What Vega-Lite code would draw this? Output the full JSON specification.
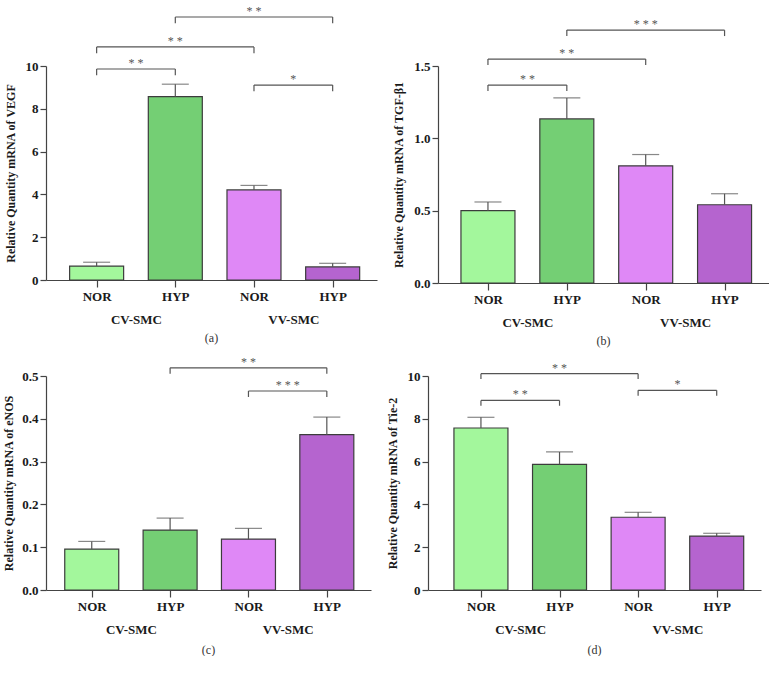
{
  "$schema": "https://vega.github.io/schema/vega-lite/v6.json",
  "padding": {"left": 2, "top": 4, "right": 0, "bottom": 0},
  "background": "white",
  "datasets": {
    "bars_a": [
      {"cond": "CV-NOR", "pos": 1, "value": 0.65, "upper": 0.83},
      {"cond": "CV-HYP", "pos": 2, "value": 8.57, "upper": 9.15},
      {"cond": "VV-NOR", "pos": 3, "value": 4.21, "upper": 4.42},
      {"cond": "VV-HYP", "pos": 4, "value": 0.61, "upper": 0.78}
    ],
    "br_a": [
      {"from": 2, "to": 4, "mid": 3, "y": 12.29, "low": 12.0, "label": "* *"},
      {"from": 1, "to": 3, "mid": 2, "y": 10.89, "low": 10.6, "label": "* *"},
      {"from": 1, "to": 2, "mid": 1.5, "y": 9.86, "low": 9.57, "label": "* *"},
      {"from": 3, "to": 4, "mid": 3.5, "y": 9.11, "low": 8.82, "label": "*"}
    ],
    "bars_b": [
      {"cond": "CV-NOR", "pos": 1, "value": 0.5, "upper": 0.56},
      {"cond": "CV-HYP", "pos": 2, "value": 1.134, "upper": 1.279},
      {"cond": "VV-NOR", "pos": 3, "value": 0.81, "upper": 0.888},
      {"cond": "VV-HYP", "pos": 4, "value": 0.541, "upper": 0.617}
    ],
    "br_b": [
      {"from": 2, "to": 4, "mid": 3, "y": 1.748, "low": 1.707, "label": "* * *"},
      {"from": 1, "to": 3, "mid": 2, "y": 1.548, "low": 1.507, "label": "* *"},
      {"from": 1, "to": 2, "mid": 1.5, "y": 1.368, "low": 1.327, "label": "* *"}
    ],
    "bars_c": [
      {"cond": "CV-NOR", "pos": 1, "value": 0.0956, "upper": 0.1135},
      {"cond": "CV-HYP", "pos": 2, "value": 0.14, "upper": 0.168},
      {"cond": "VV-NOR", "pos": 3, "value": 0.119, "upper": 0.144},
      {"cond": "VV-HYP", "pos": 4, "value": 0.363, "upper": 0.404}
    ],
    "br_c": [
      {"from": 2, "to": 4, "mid": 3, "y": 0.519, "low": 0.505, "label": "* *"},
      {"from": 3, "to": 4, "mid": 3.5, "y": 0.465, "low": 0.451, "label": "* * *"}
    ],
    "bars_d": [
      {"cond": "CV-NOR", "pos": 1, "value": 7.57, "upper": 8.07},
      {"cond": "CV-HYP", "pos": 2, "value": 5.87, "upper": 6.45},
      {"cond": "VV-NOR", "pos": 3, "value": 3.4, "upper": 3.63},
      {"cond": "VV-HYP", "pos": 4, "value": 2.52, "upper": 2.65}
    ],
    "br_d": [
      {"from": 1, "to": 3, "mid": 2, "y": 10.11, "low": 9.86, "label": "* *"},
      {"from": 3, "to": 4, "mid": 3.5, "y": 9.33, "low": 9.08, "label": "*"},
      {"from": 1, "to": 2, "mid": 1.5, "y": 8.86, "low": 8.61, "label": "* *"}
    ]
  },
  "vconcat": [
    {
      "hconcat": [
        {
          "width": 331, "height": 214,
          "title": {"text": "(a)", "orient": "bottom", "offset": 7},
          "layer": [
            {"data": {"name": "bars_a"}, "mark": {"type": "bar", "width": 54, "stroke": "#3c3c3c", "strokeWidth": 1.2},
             "encoding": {
               "x": {"field": "pos", "type": "quantitative", "title": null, "scale": {"domain": [0.42, 4.5], "nice": false, "zero": false},
                 "axis": {"values": [1, 1.5, 2, 3, 3.5, 4], "labelExpr": "datum.value == 1 || datum.value == 3 ? 'NOR' : datum.value == 2 || datum.value == 4 ? 'HYP' : datum.value == 1.5 ? 'CV-SMC' : 'VV-SMC'", "labelPadding": {"condition": {"test": "datum.value == 1.5 || datum.value == 3.5", "value": 26}, "value": 3}, "tickOpacity": {"condition": {"test": "datum.value == 1.5 || datum.value == 3.5", "value": 0}, "value": 1}, "labelOverlap": false, "labelFlush": false, "labelBound": false, "tickSize": 7}},
               "y": {"field": "value", "type": "quantitative", "title": "Relative Quantity mRNA of VEGF", "scale": {"domain": [0, 10], "nice": false},
                 "axis": {"values": [0, 2, 4, 6, 8, 10], "titlePadding": 8}},
               "fill": {"field": "cond", "type": "nominal", "scale": {"domain": ["CV-NOR", "CV-HYP", "VV-NOR", "VV-HYP"], "range": ["#a3f79c", "#74cf74", "#df88f6", "#b564cf"]}, "legend": null}
             }},
            {"data": {"name": "bars_a"}, "mark": {"type": "rule", "color": "#555", "strokeWidth": 1.2},
             "encoding": {"x": {"field": "pos", "type": "quantitative", "title": null}, "y": {"field": "value", "type": "quantitative", "title": "Relative Quantity mRNA of VEGF"}, "y2": {"field": "upper"}}},
            {"data": {"name": "bars_a"}, "mark": {"type": "tick", "orient": "horizontal", "color": "#555", "size": 27, "thickness": 1.2},
             "encoding": {"x": {"field": "pos", "type": "quantitative", "title": null}, "y": {"field": "upper", "type": "quantitative", "title": "Relative Quantity mRNA of VEGF"}}},
            {"data": {"name": "br_a"}, "mark": {"type": "rule", "color": "#555", "strokeWidth": 1.2},
             "encoding": {"x": {"field": "from", "type": "quantitative", "title": null}, "x2": {"field": "to"}, "y": {"field": "y", "type": "quantitative", "title": "Relative Quantity mRNA of VEGF"}}},
            {"data": {"name": "br_a"}, "mark": {"type": "rule", "color": "#555", "strokeWidth": 1.2},
             "encoding": {"x": {"field": "from", "type": "quantitative", "title": null}, "y": {"field": "y", "type": "quantitative", "title": "Relative Quantity mRNA of VEGF"}, "y2": {"field": "low"}}},
            {"data": {"name": "br_a"}, "mark": {"type": "rule", "color": "#555", "strokeWidth": 1.2},
             "encoding": {"x": {"field": "to", "type": "quantitative", "title": null}, "y": {"field": "y", "type": "quantitative", "title": "Relative Quantity mRNA of VEGF"}, "y2": {"field": "low"}}},
            {"data": {"name": "br_a"}, "mark": {"type": "text", "font": "Liberation Serif", "fontSize": 12, "color": "#555", "baseline": "alphabetic", "dy": -2},
             "encoding": {"x": {"field": "mid", "type": "quantitative", "title": null}, "y": {"field": "y", "type": "quantitative", "title": "Relative Quantity mRNA of VEGF"}, "text": {"field": "label"}}}
          ]
        },
        {
          "width": 331, "height": 217,
          "title": {"text": "(b)", "orient": "bottom", "offset": 7},
          "layer": [
            {"data": {"name": "bars_b"}, "mark": {"type": "bar", "width": 54, "stroke": "#3c3c3c", "strokeWidth": 1.2},
             "encoding": {
               "x": {"field": "pos", "type": "quantitative", "title": null, "scale": {"domain": [0.43, 4.5], "nice": false, "zero": false},
                 "axis": {"values": [1, 1.5, 2, 3, 3.5, 4], "labelExpr": "datum.value == 1 || datum.value == 3 ? 'NOR' : datum.value == 2 || datum.value == 4 ? 'HYP' : datum.value == 1.5 ? 'CV-SMC' : 'VV-SMC'", "labelPadding": {"condition": {"test": "datum.value == 1.5 || datum.value == 3.5", "value": 26}, "value": 3}, "tickOpacity": {"condition": {"test": "datum.value == 1.5 || datum.value == 3.5", "value": 0}, "value": 1}, "labelOverlap": false, "labelFlush": false, "labelBound": false, "tickSize": 7}},
               "y": {"field": "value", "type": "quantitative", "title": "Relative Quantity mRNA of TGF-β1", "scale": {"domain": [0, 1.5], "nice": false},
                 "axis": {"values": [0, 0.5, 1, 1.5], "format": ".1f", "titlePadding": 8}},
               "fill": {"field": "cond", "type": "nominal", "scale": {"domain": ["CV-NOR", "CV-HYP", "VV-NOR", "VV-HYP"], "range": ["#a3f79c", "#74cf74", "#df88f6", "#b564cf"]}, "legend": null}
             }},
            {"data": {"name": "bars_b"}, "mark": {"type": "rule", "color": "#555", "strokeWidth": 1.2},
             "encoding": {"x": {"field": "pos", "type": "quantitative", "title": null}, "y": {"field": "value", "type": "quantitative", "title": "Relative Quantity mRNA of TGF-β1"}, "y2": {"field": "upper"}}},
            {"data": {"name": "bars_b"}, "mark": {"type": "tick", "orient": "horizontal", "color": "#555", "size": 27, "thickness": 1.2},
             "encoding": {"x": {"field": "pos", "type": "quantitative", "title": null}, "y": {"field": "upper", "type": "quantitative", "title": "Relative Quantity mRNA of TGF-β1"}}},
            {"data": {"name": "br_b"}, "mark": {"type": "rule", "color": "#555", "strokeWidth": 1.2},
             "encoding": {"x": {"field": "from", "type": "quantitative", "title": null}, "x2": {"field": "to"}, "y": {"field": "y", "type": "quantitative", "title": "Relative Quantity mRNA of TGF-β1"}}},
            {"data": {"name": "br_b"}, "mark": {"type": "rule", "color": "#555", "strokeWidth": 1.2},
             "encoding": {"x": {"field": "from", "type": "quantitative", "title": null}, "y": {"field": "y", "type": "quantitative", "title": "Relative Quantity mRNA of TGF-β1"}, "y2": {"field": "low"}}},
            {"data": {"name": "br_b"}, "mark": {"type": "rule", "color": "#555", "strokeWidth": 1.2},
             "encoding": {"x": {"field": "to", "type": "quantitative", "title": null}, "y": {"field": "y", "type": "quantitative", "title": "Relative Quantity mRNA of TGF-β1"}, "y2": {"field": "low"}}},
            {"data": {"name": "br_b"}, "mark": {"type": "text", "font": "Liberation Serif", "fontSize": 12, "color": "#555", "baseline": "alphabetic", "dy": -2},
             "encoding": {"x": {"field": "mid", "type": "quantitative", "title": null}, "y": {"field": "y", "type": "quantitative", "title": "Relative Quantity mRNA of TGF-β1"}, "text": {"field": "label"}}}
          ]
        }
      ],
      "spacing": 15
    },
    {
      "hconcat": [
        {
          "width": 325, "height": 214,
          "title": {"text": "(c)", "orient": "bottom", "offset": 9},
          "layer": [
            {"data": {"name": "bars_c"}, "mark": {"type": "bar", "width": 54, "stroke": "#3c3c3c", "strokeWidth": 1.2},
             "encoding": {
               "x": {"field": "pos", "type": "quantitative", "title": null, "scale": {"domain": [0.48, 4.5], "nice": false, "zero": false},
                 "axis": {"values": [1, 1.5, 2, 3, 3.5, 4], "labelExpr": "datum.value == 1 || datum.value == 3 ? 'NOR' : datum.value == 2 || datum.value == 4 ? 'HYP' : datum.value == 1.5 ? 'CV-SMC' : 'VV-SMC'", "labelPadding": {"condition": {"test": "datum.value == 1.5 || datum.value == 3.5", "value": 26}, "value": 3}, "tickOpacity": {"condition": {"test": "datum.value == 1.5 || datum.value == 3.5", "value": 0}, "value": 1}, "labelOverlap": false, "labelFlush": false, "labelBound": false, "tickSize": 7}},
               "y": {"field": "value", "type": "quantitative", "title": "Relative Quantity mRNA of eNOS", "scale": {"domain": [0, 0.5], "nice": false},
                 "axis": {"values": [0, 0.1, 0.2, 0.3, 0.4, 0.5], "format": ".1f", "titlePadding": 6}},
               "fill": {"field": "cond", "type": "nominal", "scale": {"domain": ["CV-NOR", "CV-HYP", "VV-NOR", "VV-HYP"], "range": ["#a3f79c", "#74cf74", "#df88f6", "#b564cf"]}, "legend": null}
             }},
            {"data": {"name": "bars_c"}, "mark": {"type": "rule", "color": "#555", "strokeWidth": 1.2},
             "encoding": {"x": {"field": "pos", "type": "quantitative", "title": null}, "y": {"field": "value", "type": "quantitative", "title": "Relative Quantity mRNA of eNOS"}, "y2": {"field": "upper"}}},
            {"data": {"name": "bars_c"}, "mark": {"type": "tick", "orient": "horizontal", "color": "#555", "size": 27, "thickness": 1.2},
             "encoding": {"x": {"field": "pos", "type": "quantitative", "title": null}, "y": {"field": "upper", "type": "quantitative", "title": "Relative Quantity mRNA of eNOS"}}},
            {"data": {"name": "br_c"}, "mark": {"type": "rule", "color": "#555", "strokeWidth": 1.2},
             "encoding": {"x": {"field": "from", "type": "quantitative", "title": null}, "x2": {"field": "to"}, "y": {"field": "y", "type": "quantitative", "title": "Relative Quantity mRNA of eNOS"}}},
            {"data": {"name": "br_c"}, "mark": {"type": "rule", "color": "#555", "strokeWidth": 1.2},
             "encoding": {"x": {"field": "from", "type": "quantitative", "title": null}, "y": {"field": "y", "type": "quantitative", "title": "Relative Quantity mRNA of eNOS"}, "y2": {"field": "low"}}},
            {"data": {"name": "br_c"}, "mark": {"type": "rule", "color": "#555", "strokeWidth": 1.2},
             "encoding": {"x": {"field": "to", "type": "quantitative", "title": null}, "y": {"field": "y", "type": "quantitative", "title": "Relative Quantity mRNA of eNOS"}, "y2": {"field": "low"}}},
            {"data": {"name": "br_c"}, "mark": {"type": "text", "font": "Liberation Serif", "fontSize": 12, "color": "#555", "baseline": "alphabetic", "dy": -2},
             "encoding": {"x": {"field": "mid", "type": "quantitative", "title": null}, "y": {"field": "y", "type": "quantitative", "title": "Relative Quantity mRNA of eNOS"}, "text": {"field": "label"}}}
          ]
        },
        {
          "width": 333, "height": 214,
          "title": {"text": "(d)", "orient": "bottom", "offset": 9},
          "layer": [
            {"data": {"name": "bars_d"}, "mark": {"type": "bar", "width": 54, "stroke": "#3c3c3c", "strokeWidth": 1.2},
             "encoding": {
               "x": {"field": "pos", "type": "quantitative", "title": null, "scale": {"domain": [0.39, 4.5], "nice": false, "zero": false},
                 "axis": {"values": [1, 1.5, 2, 3, 3.5, 4], "labelExpr": "datum.value == 1 || datum.value == 3 ? 'NOR' : datum.value == 2 || datum.value == 4 ? 'HYP' : datum.value == 1.5 ? 'CV-SMC' : 'VV-SMC'", "labelPadding": {"condition": {"test": "datum.value == 1.5 || datum.value == 3.5", "value": 26}, "value": 3}, "tickOpacity": {"condition": {"test": "datum.value == 1.5 || datum.value == 3.5", "value": 0}, "value": 1}, "labelOverlap": false, "labelFlush": false, "labelBound": false, "tickSize": 7}},
               "y": {"field": "value", "type": "quantitative", "title": "Relative Quantity mRNA of Tie-2", "scale": {"domain": [0, 10], "nice": false},
                 "axis": {"values": [0, 2, 4, 6, 8, 10], "titlePadding": 8}},
               "fill": {"field": "cond", "type": "nominal", "scale": {"domain": ["CV-NOR", "CV-HYP", "VV-NOR", "VV-HYP"], "range": ["#a3f79c", "#74cf74", "#df88f6", "#b564cf"]}, "legend": null}
             }},
            {"data": {"name": "bars_d"}, "mark": {"type": "rule", "color": "#555", "strokeWidth": 1.2},
             "encoding": {"x": {"field": "pos", "type": "quantitative", "title": null}, "y": {"field": "value", "type": "quantitative", "title": "Relative Quantity mRNA of Tie-2"}, "y2": {"field": "upper"}}},
            {"data": {"name": "bars_d"}, "mark": {"type": "tick", "orient": "horizontal", "color": "#555", "size": 27, "thickness": 1.2},
             "encoding": {"x": {"field": "pos", "type": "quantitative", "title": null}, "y": {"field": "upper", "type": "quantitative", "title": "Relative Quantity mRNA of Tie-2"}}},
            {"data": {"name": "br_d"}, "mark": {"type": "rule", "color": "#555", "strokeWidth": 1.2},
             "encoding": {"x": {"field": "from", "type": "quantitative", "title": null}, "x2": {"field": "to"}, "y": {"field": "y", "type": "quantitative", "title": "Relative Quantity mRNA of Tie-2"}}},
            {"data": {"name": "br_d"}, "mark": {"type": "rule", "color": "#555", "strokeWidth": 1.2},
             "encoding": {"x": {"field": "from", "type": "quantitative", "title": null}, "y": {"field": "y", "type": "quantitative", "title": "Relative Quantity mRNA of Tie-2"}, "y2": {"field": "low"}}},
            {"data": {"name": "br_d"}, "mark": {"type": "rule", "color": "#555", "strokeWidth": 1.2},
             "encoding": {"x": {"field": "to", "type": "quantitative", "title": null}, "y": {"field": "y", "type": "quantitative", "title": "Relative Quantity mRNA of Tie-2"}, "y2": {"field": "low"}}},
            {"data": {"name": "br_d"}, "mark": {"type": "text", "font": "Liberation Serif", "fontSize": 12, "color": "#555", "baseline": "alphabetic", "dy": -2},
             "encoding": {"x": {"field": "mid", "type": "quantitative", "title": null}, "y": {"field": "y", "type": "quantitative", "title": "Relative Quantity mRNA of Tie-2"}, "text": {"field": "label"}}}
          ]
        }
      ],
      "spacing": 15
    }
  ],
  "spacing": 8,
  "config": {
    "view": {"stroke": null},
    "axis": {"labelFont": "Liberation Serif", "labelFontSize": 13, "labelFontWeight": "bold", "labelColor": "#1a1a1a", "titleFont": "Liberation Serif", "titleFontSize": 12, "titleFontWeight": "bold", "titleColor": "#1a1a1a", "domainColor": "#444", "tickColor": "#444", "domainWidth": 1.2, "tickWidth": 1.2, "grid": false, "tickSize": 6, "labelPadding": 2},
    "title": {"font": "Liberation Serif", "fontSize": 12, "fontWeight": "normal", "color": "#333"}
  }
}
